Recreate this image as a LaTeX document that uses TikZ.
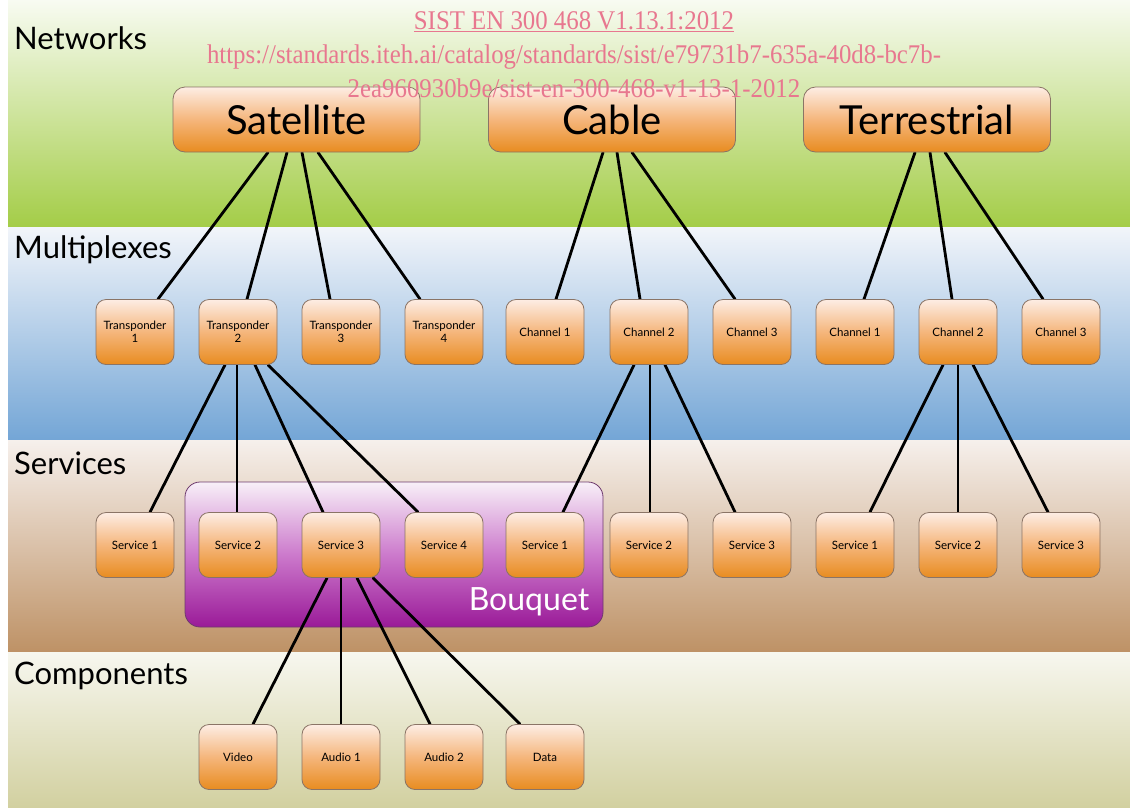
\documentclass[tikz,border=0pt]{standalone}
\usepackage{fontspec}
\setmainfont{Lato}
\newfontfamily\wmfont[FakeStretch=0.92]{Liberation Serif}
\usetikzlibrary{calc}
\definecolor{netTop}{HTML}{F8FBF2}
\definecolor{netBot}{HTML}{A4CD48}
\definecolor{muxTop}{HTML}{F2F5FA}
\definecolor{muxBot}{HTML}{74A6D6}
\definecolor{srvTop}{HTML}{F6F0EC}
\definecolor{srvBot}{HTML}{BE9266}
\definecolor{cmpTop}{HTML}{F7F7EF}
\definecolor{cmpBot}{HTML}{D2D0A0}
\definecolor{boxTop}{HTML}{FDEDE4}
\definecolor{boxMid}{HTML}{F5B67C}
\definecolor{boxBot}{HTML}{E88C20}
\definecolor{boxLine}{HTML}{8A7466}
\definecolor{bqTop}{HTML}{F8F0F8}
\definecolor{bqMid}{HTML}{CC7ACC}
\definecolor{bqBot}{HTML}{9A1A98}
\definecolor{bqLine}{HTML}{6E3A6E}
\definecolor{wmpink}{HTML}{E8778F}
\pgfdeclarelayer{bg}
\pgfdeclarelayer{edges}
\pgfsetlayers{bg,edges,main}
\tikzset{
  box/.style={draw=boxLine, line width=0.8pt, rounded corners=10pt,
    top color=boxTop, bottom color=boxBot, middle color=boxMid,
    minimum width=78pt, minimum height=65pt, align=center, inner sep=1pt,
    font=\fontsize{11.5}{12.5}\selectfont, text=black},
  bigbox/.style={box, rounded corners=12pt, minimum width=247pt,
    font=\fontsize{40}{44}\selectfont},
  link/.style={line width=2.8pt, black, line cap=round},
  bandlabel/.style={anchor=west, font=\fontsize{31}{34}\selectfont, text=black, inner sep=0pt},
  wmtext/.style={font=\wmfont\fontsize{27}{29}\selectfont, text=wmpink, inner sep=0pt}
}
\begin{document}
\begin{tikzpicture}[x=1pt,y=-1pt]
\useasboundingbox (0,0) rectangle (1130,807);
\begin{pgfonlayer}{bg}
\fill[white] (0,0) rectangle (1130,807);
\shade[top color=netTop, bottom color=netBot] (8,0) rectangle (1130,226);
\shade[top color=muxTop, bottom color=muxBot] (8,227) rectangle (1130,439);
\shade[top color=srvTop, bottom color=srvBot] (8,440) rectangle (1130,651);
\shade[top color=cmpTop, bottom color=cmpBot] (8,652) rectangle (1130,807);
\node[draw=bqLine, line width=0.8pt, rounded corners=15pt,
  top color=bqTop, bottom color=bqBot, middle color=bqMid,
  minimum width=418pt, minimum height=145pt] (bq) at (394,554.5) {};
\end{pgfonlayer}

\node[bandlabel] (lnet) at (14,38) {Networks};
\node[bandlabel] (lmux) at (14,250) {Multiplexes};
\node[bandlabel] (lsrv) at (14,463) {Services};
\node[bandlabel] (lcmp) at (14,676) {Components};

\node[anchor=east, text=white, font=\fontsize{32}{34}\selectfont, inner sep=0pt] (bql) at ([xshift=-14pt,yshift=26pt]bq.south east) {Bouquet};

% networks
\node[bigbox] (sat) at (296.5,119.5) {Satellite};
\node[bigbox] (cab) at (612,119.5) {Cable};
\node[bigbox] (ter) at (927,119.5) {Terrestrial};

% multiplexes
\node[box] (t1) at (135,332) {Transponder\\1};
\node[box] (t2) at (238,332) {Transponder\\2};
\node[box] (t3) at (341,332) {Transponder\\3};
\node[box] (t4) at (444,332) {Transponder\\4};
\node[box] (c1) at (545,332) {Channel 1};
\node[box] (c2) at (649,332) {Channel 2};
\node[box] (c3) at (752,332) {Channel 3};
\node[box] (e1) at (855,332) {Channel 1};
\node[box] (e2) at (958,332) {Channel 2};
\node[box] (e3) at (1061,332) {Channel 3};

% services
\node[box] (s1) at (135,545) {Service 1};
\node[box] (s2) at (238,545) {Service 2};
\node[box] (s3) at (341,545) {Service 3};
\node[box] (s4) at (444,545) {Service 4};
\node[box] (cs1) at (545,545) {Service 1};
\node[box] (cs2) at (649,545) {Service 2};
\node[box] (cs3) at (752,545) {Service 3};
\node[box] (es1) at (855,545) {Service 1};
\node[box] (es2) at (958,545) {Service 2};
\node[box] (es3) at (1061,545) {Service 3};

% components
\node[box] (v) at (238,757) {Video};
\node[box] (a1) at (341,757) {Audio 1};
\node[box] (a2) at (444,757) {Audio 2};
\node[box] (d) at (545,757) {Data};

\begin{pgfonlayer}{edges}
\draw[link] ([xshift=-28.5pt]sat.south) -- ([xshift=23pt]t1.north);
\draw[link] ([xshift=-9.5pt]sat.south) -- ([xshift=9pt]t2.north);
\draw[link] ([xshift=5.5pt]sat.south) -- ([xshift=-11pt]t3.north);
\draw[link] ([xshift=21.5pt]sat.south) -- ([xshift=-24pt]t4.north);
\draw[link] ([xshift=-9pt]cab.south) -- ([xshift=11pt]c1.north);
\draw[link] ([xshift=5pt]cab.south) -- ([xshift=-9pt]c2.north);
\draw[link] ([xshift=20pt]cab.south) -- ([xshift=-17pt]c3.north);
\draw[link] ([xshift=-12pt]ter.south) -- ([xshift=9pt]e1.north);
\draw[link] ([xshift=3pt]ter.south) -- ([xshift=-6pt]e2.north);
\draw[link] ([xshift=18pt]ter.south) -- ([xshift=-18pt]e3.north);

\draw[link] ([xshift=-13pt]t2.south) -- ([xshift=15pt]s1.north);
\draw[link] ([xshift=-1pt]t2.south) -- ([xshift=-1pt]s2.north);
\draw[link] ([xshift=17pt]t2.south) -- ([xshift=-18pt]s3.north);
\draw[link] ([xshift=30pt]t2.south) -- ([xshift=-26pt]s4.north);
\draw[link] ([xshift=-15pt]c2.south) -- ([xshift=18pt]cs1.north);
\draw[link] ([xshift=1pt]c2.south) -- ([xshift=1pt]cs2.north);
\draw[link] ([xshift=16pt]c2.south) -- ([xshift=-17pt]cs3.north);
\draw[link] ([xshift=-15pt]e2.south) -- ([xshift=15pt]es1.north);
\draw[link] (e2.south) -- (es2.north);
\draw[link] ([xshift=15pt]e2.south) -- ([xshift=-13pt]es3.north);

\draw[link] ([xshift=-14pt]s3.south) -- ([xshift=15pt]v.north);
\draw[link] (s3.south) -- (a1.north);
\draw[link] ([xshift=16pt]s3.south) -- ([xshift=-14pt]a2.north);
\draw[link] ([xshift=32pt]s3.south) -- ([xshift=-25pt]d.north);
\end{pgfonlayer}

% watermark
\node[wmtext] (w1) at (574,22) {\underline{SIST EN 300 468 V1.13.1:2012}};
\node[wmtext] (w2) at (574,57) {https://standards.iteh.ai/catalog/standards/sist/e79731b7-635a-40d8-bc7b-};
\node[wmtext] (w3) at (574,88) {2ea960930b9e/sist-en-300-468-v1-13-1-2012};
\end{tikzpicture}
\end{document}
